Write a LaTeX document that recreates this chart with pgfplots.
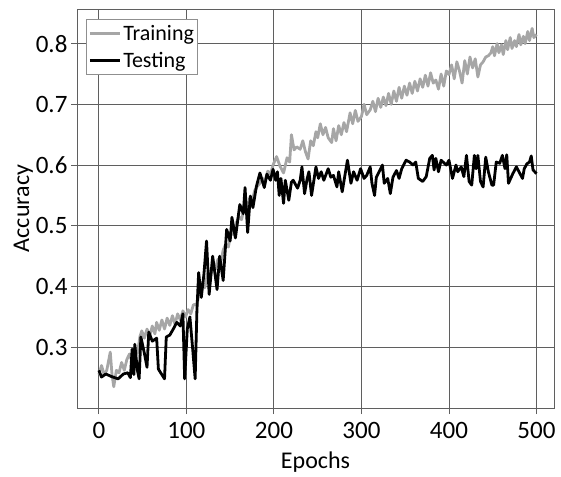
\documentclass[border=0pt]{standalone}
\usepackage{fontspec}
\setmainfont{Carlito}
\usepackage{pgfplots}
\pgfplotsset{compat=1.18}

\definecolor{gridgray}{RGB}{95,95,95}
\definecolor{traingray}{RGB}{166,166,166}

\begin{document}
\begin{tikzpicture}
\begin{axis}[
  scale only axis,
  width=477pt, height=399pt,
  xmin=-25, xmax=520,
  ymin=0.2, ymax=0.857,
  xtick={0,100,200,300,400,500},
  ytick={0.3,0.4,0.5,0.6,0.7,0.8},
  yticklabel style={/pgf/number format/fixed,/pgf/number format/precision=1,/pgf/number format/fixed zerofill},
  /pgf/number format/assume math mode=true,
  tick label style={font=\fontsize{25}{29}\selectfont},
  xticklabel style={yshift=-5pt},
  label style={font=\fontsize{24}{28}\selectfont},
  xlabel={Epochs}, ylabel={Accuracy},
  xlabel style={yshift=-6pt},
  ylabel style={yshift=-4pt},
  grid=major,
  grid style={color=gridgray, line width=0.9pt},
  axis line style={color=gridgray, line width=0.9pt},
  tick style={color=gridgray, line width=0.9pt},
  tick align=outside,
  major tick length=6pt,
  tick pos=left,
  legend cell align=left,
  legend style={at={(0,1)}, anchor=north west, xshift=9pt, yshift=-10pt,
    draw=gridgray!70, line width=0.9pt,
    font=\fontsize{22}{26}\selectfont,
    inner xsep=2pt, inner ysep=4pt, row sep=6pt},
  legend image code/.code={\draw[#1] (0pt,0pt) -- (30pt,0pt);},
]

% training accuracy
\addplot[color=traingray, line width=2.8pt, line join=round] coordinates {
(0,0.255) (3,0.270) (6,0.255) (9,0.262) (13,0.292) (15,0.255) (17,0.235)
(20,0.262) (23,0.258) (26,0.275) (29,0.262) (32,0.280) (35,0.289) (38,0.275)
(41,0.300) (44,0.290) (47,0.318) (49,0.327) (52,0.315) (55,0.330) (58,0.318)
(61,0.335) (64,0.322) (66,0.341) (69,0.328) (72,0.345) (75,0.330) (78,0.348)
(81,0.336) (84,0.352) (87,0.338) (90,0.355) (93,0.345) (96,0.360) (99,0.350)
(102,0.362) (105,0.355) (108,0.370) (112,0.371) (115,0.390) (118,0.405)
(121,0.398) (124,0.420) (127,0.412) (130,0.435) (133,0.428) (136,0.445)
(139,0.438) (142,0.460) (145,0.470) (148,0.465) (151,0.490) (154,0.485)
(157,0.505) (160,0.515) (163,0.510) (166,0.530) (169,0.525) (172,0.545)
(175,0.540) (178,0.558) (181,0.565) (184,0.570) (187,0.578) (190,0.575)
(193,0.590) (196,0.585) (199,0.600) (203,0.614) (207,0.598) (211,0.587)
(215,0.612) (218,0.605) (220,0.650) (223,0.625) (226,0.630) (230,0.626)
(233,0.640) (236,0.622) (239,0.610) (242,0.640) (245,0.632) (248,0.655)
(250,0.645) (253,0.668) (256,0.650) (259,0.662) (262,0.645) (266,0.637)
(268,0.660) (271,0.640) (274,0.665) (277,0.650) (280,0.670) (283,0.655)
(287,0.686) (290,0.668) (293,0.690) (296,0.672) (300,0.680) (303,0.700)
(306,0.683) (310,0.691) (313,0.705) (316,0.688) (319,0.710) (322,0.695)
(325,0.712) (328,0.698) (331,0.718) (334,0.700) (337,0.722) (340,0.705)
(343,0.728) (346,0.710) (349,0.730) (352,0.715) (355,0.735) (358,0.718)
(361,0.738) (364,0.722) (367,0.742) (370,0.728) (373,0.748) (376,0.730)
(379,0.752) (382,0.735) (385,0.740) (388,0.725) (391,0.750) (394,0.730)
(397,0.755) (400,0.749) (403,0.765) (406,0.742) (409,0.770) (412,0.755)
(415,0.735) (418,0.772) (421,0.750) (424,0.778) (427,0.760) (430,0.775)
(433,0.745) (436,0.765) (439,0.770) (442,0.778) (445,0.780) (448,0.785)
(450,0.795) (452,0.780) (455,0.800) (457,0.785) (460,0.798) (462,0.782)
(465,0.805) (467,0.790) (470,0.810) (472,0.792) (475,0.805) (477,0.795)
(480,0.815) (482,0.798) (485,0.812) (487,0.800) (490,0.820) (492,0.805)
(495,0.825) (497,0.810) (500,0.815)
};
\addlegendentry{Training}

% testing accuracy
\addplot[color=black, line width=2.8pt, line join=round] coordinates {
(0,0.262) (3,0.251) (8,0.256) (14,0.252) (22,0.248) (28,0.256) (33,0.258)
(36,0.250) (38,0.297) (40,0.255) (41,0.305) (44,0.262) (46,0.248) (48,0.317)
(52,0.290) (55,0.267) (57,0.325) (61,0.310) (66,0.315) (68,0.264) (75,0.248)
(77,0.317) (81,0.320) (85,0.330) (89,0.341) (93,0.335) (96,0.355) (98,0.248)
(101,0.330) (104,0.350) (107,0.300) (110,0.248) (112,0.360) (114,0.423)
(117,0.382) (120,0.420) (123,0.475) (126,0.387) (130,0.450) (135,0.395)
(138,0.450) (142,0.410) (146,0.494) (150,0.475) (152,0.514) (156,0.480)
(161,0.535) (165,0.520) (167,0.563) (170,0.489) (173,0.549) (176,0.530)
(180,0.565) (184,0.587) (189,0.563) (192,0.585) (196,0.575) (199,0.593)
(202,0.575) (204,0.589) (206,0.550) (208,0.578) (211,0.537) (213,0.575)
(217,0.542) (220,0.572) (222,0.575) (227,0.562) (230,0.575) (232,0.597)
(235,0.553) (238,0.578) (240,0.589) (243,0.550) (248,0.597) (251,0.578)
(254,0.589) (257,0.575) (262,0.594) (265,0.580) (268,0.583) (272,0.564)
(274,0.589) (278,0.556) (284,0.608) (288,0.570) (291,0.589) (295,0.575)
(299,0.594) (303,0.578) (306,0.583) (310,0.597) (312,0.570) (315,0.550)
(317,0.580) (324,0.600) (326,0.570) (330,0.578) (333,0.553) (336,0.580)
(340,0.591) (343,0.578) (346,0.594) (351,0.608) (355,0.605) (359,0.600)
(362,0.605) (365,0.578) (370,0.573) (374,0.581) (378,0.611) (381,0.616)
(383,0.592) (385,0.611) (388,0.589) (391,0.608) (397,0.600) (400,0.608)
(404,0.578) (408,0.600) (410,0.589) (414,0.597) (417,0.581) (420,0.616)
(423,0.573) (426,0.567) (429,0.616) (431,0.594) (433,0.616) (436,0.573)
(439,0.564) (442,0.613) (445,0.589) (449,0.567) (451,0.567) (454,0.605)
(458,0.603) (461,0.616) (464,0.594) (466,0.617) (468,0.570) (473,0.586)
(477,0.597) (480,0.589) (484,0.578) (486,0.594) (489,0.602) (492,0.605)
(494,0.615) (496,0.592) (500,0.586)
};
\addlegendentry{Testing}
\end{axis}
\pgfresetboundingbox
\path ([shift={(-77pt,-68pt)}]current axis.south west) rectangle ([shift={(7pt,9pt)}]current axis.north east);
\end{tikzpicture}
\end{document}
